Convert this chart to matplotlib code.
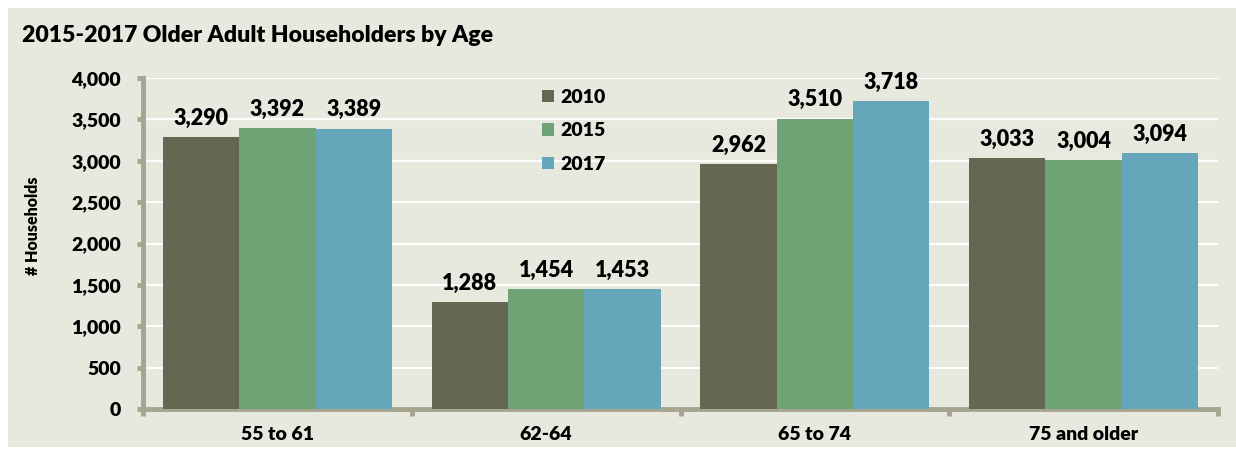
import matplotlib
matplotlib.use("Agg")
import matplotlib.pyplot as plt
import numpy as np
from matplotlib.patches import Rectangle

categories = ["55 to 61", "62-64", "65 to 74", "75 and older"]
series_names = ["2010", "2015", "2017"]
v2010 = [3290, 1288, 2962, 3033]
v2015 = [3392, 1454, 3510, 3004]
v2017 = [3389, 1453, 3718, 3094]
yticks = [0, 500, 1000, 1500, 2000, 2500, 3000, 3500, 4000]
colors = ["#646852", "#6FA375", "#66A6BA"]

plt.rcParams['font.family'] = ['Lato', 'DejaVu Sans']
plt.rcParams['font.weight'] = 'heavy'
FW = 'heavy'

W, H = 1236, 449
fig = plt.figure(figsize=(W/100, H/100), dpi=100)
fig.patch.set_facecolor("white")
panel = Rectangle((8/W, 2/H), 1, 1 - 8/H - 2/H, transform=fig.transFigure,
                  facecolor="#E8E9DE", edgecolor="none", zorder=-10)
fig.add_artist(panel)

ax = fig.add_axes([143/W, 1 - 409/H, (1218-143)/W, (409-78)/H])
ax.set_zorder(5)
ax.set_facecolor("none")

x = np.arange(len(categories))
group = 0.852
bw = group / 3
for i, (vals, c, name) in enumerate(zip([v2010, v2015, v2017], colors, series_names)):
    pos = x - group/2 + bw*(i + 0.5)
    ax.bar(pos, vals, width=bw, color=c, label=name, zorder=3)
    for p, v in zip(pos, vals):
        ax.text(p, v + 100, f"{v:,}", ha="center", va="bottom", fontsize=15.5,
                fontweight=FW, color="black", zorder=4)

ax.set_xlim(-0.5, len(categories) - 0.5)
ax.set_ylim(0, 4000)
ax.set_yticks(yticks)
ax.set_yticklabels([f"{t:,}" for t in yticks], fontsize=14, fontweight=FW)
ax.yaxis.grid(True, color="white", linewidth=1.5, zorder=1)
ax.set_axisbelow(True)

ax.set_xticks(x)
ax.set_xticklabels(categories, fontsize=14, fontweight=FW)
ax.tick_params(axis="x", length=0, pad=12)
ax.set_xticks(np.arange(len(categories) + 1) - 0.5, minor=True)
ax.tick_params(axis="x", which="minor", length=5, width=3.5, color="#A5A590", direction="out")
ax.tick_params(axis="y", length=4, width=3.5, color="#A5A590", pad=12)

for s in ["top", "right"]:
    ax.spines[s].set_visible(False)
for s in ["left", "bottom"]:
    ax.spines[s].set_color("#A5A590")
    ax.spines[s].set_linewidth(3.5)

fig.text(33/W, 1 - 226/H, "# Households", fontsize=11.5, fontweight=FW,
         rotation=90, ha="center", va="center")

fig.text(22/W, 1 - 35/H, "2015-2017 Older Adult Householders by Age", fontsize=16.6,
         fontweight=FW, ha="left", va="center")

leg = ax.legend(loc="upper left", bbox_to_anchor=(0.355, 1.02), frameon=False,
                handlelength=0.6, handleheight=0.6, labelspacing=0.85,
                handletextpad=0.35, prop={'weight': FW, 'size': 14})

fig.savefig("out.png", dpi=100, facecolor=fig.get_facecolor())
